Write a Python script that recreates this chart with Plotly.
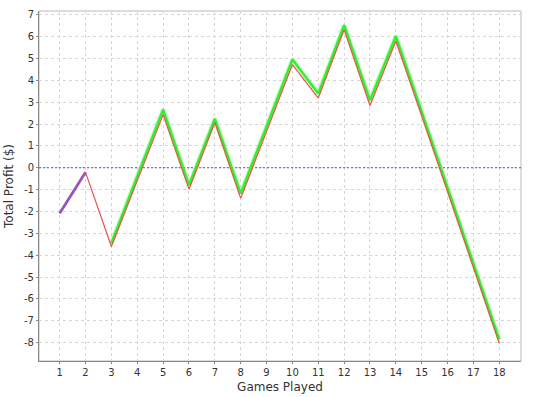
import plotly.graph_objects as go

games = list(range(1, 19))
red_profit = [-2.08, -0.21, -3.6, -0.59, 2.43, -0.98, 2.07, -1.40, 1.66, 4.72,
              3.19, 6.32, 2.85, 5.80, 2.38, -1.09, -4.56, -8.03]
green_games = list(range(3, 19))
green_profit = [-3.45, -0.40, 2.66, -0.80, 2.24, -1.18, 1.90, 4.95,
                3.39, 6.52, 3.08, 6.02, 2.55, -0.93, -4.40, -7.85]
purple_games = [1, 2]
purple_profit = [-2.08, -0.21]
profit_ticks = list(range(-8, 8))
zero_x = [0.2, 18.84]
zero_y = [0, 0]

fig = go.Figure()
fig.add_trace(go.Scatter(x=zero_x, y=zero_y, mode="lines",
                         line=dict(color="#5555bb", width=1, dash="2px,2px"),
                         hoverinfo="skip", showlegend=False))
fig.add_trace(go.Scatter(x=green_games, y=green_profit, mode="lines",
                         line=dict(color="rgba(120,255,120,0.5)", width=4.5),
                         showlegend=False, hoverinfo="skip"))
fig.add_trace(go.Scatter(x=green_games, y=green_profit, mode="lines",
                         line=dict(color="#33ee33", width=2.4),
                         showlegend=False))
fig.add_trace(go.Scatter(x=games, y=red_profit, mode="lines",
                         line=dict(color="#ee5050", width=1.2),
                         showlegend=False))
fig.add_trace(go.Scatter(x=purple_games, y=purple_profit, mode="lines",
                         line=dict(color="#9955bb", width=2.8),
                         showlegend=False))

grid = dict(showgrid=True, gridcolor="#d6d6d6", gridwidth=1, griddash="3px,3px")
fig.update_layout(
    width=536, height=397,
    margin=dict(l=39, r=15, t=11, b=36),
    paper_bgcolor="white", plot_bgcolor="white",
    font=dict(family="DejaVu Sans, Tahoma, sans-serif", color="#333333"),
    xaxis=dict(range=[0.2, 18.84], tickmode="array", tickvals=games,
               ticktext=[str(g) for g in games], tickfont=dict(size=10, color="#333"),
               ticks="outside", ticklen=2, tickcolor="#888",
               showline=True, linecolor="#888888", linewidth=1,
               zeroline=False, automargin=False,
               title=dict(text="Games Played", font=dict(size=12, color="#333"), standoff=5),
               **grid),
    yaxis=dict(range=[-8.84, 7.17], tickmode="array", tickvals=profit_ticks,
               ticktext=[str(v) for v in profit_ticks],
               tickfont=dict(size=10, color="#333"),
               ticks="outside", ticklen=2, tickcolor="#888",
               showline=True, linecolor="#888888", linewidth=1,
               zeroline=False, automargin=False,
               title=dict(text="Total Profit ($)", font=dict(size=12, color="#333"), standoff=7),
               **grid),
    shapes=[dict(type="rect", xref="paper", yref="paper", x0=0, y0=0, x1=1, y1=1,
                 line=dict(color="#bbbbbb", width=1), layer="below")],
)
fig.write_html("out.html")
